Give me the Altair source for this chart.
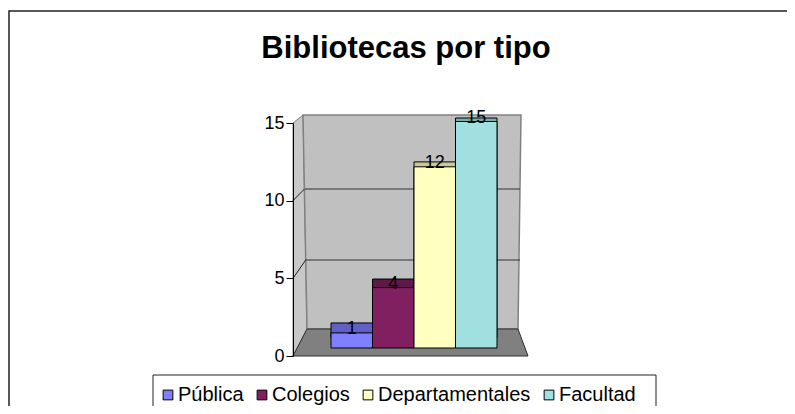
import altair as alt
import pandas as pd

# ---- data ----
categories = ["Pública", "Colegios", "Departamentales", "Facultad"]
values = [1, 4, 12, 15]
front_colors = ["#8080FF", "#802060", "#FFFFC0", "#A0E0E0"]
top_colors = ["#6060C8", "#601848", "#C8C898", "#78B0B0"]
axis_ticks = [0, 5, 10, 15]
wall_grid = [5, 10]
title_text = "Bibliotecas por tipo"

FONT = "Liberation Sans"

# plot origin on page
OX, OY = 293, 123
W, H = 242, 233


def px(X):
    return X - OX


def py(Y):
    return Y - OY


bars = pd.DataFrame({
    "cat": categories,
    "val": values,
    "front": front_colors,
    "top": top_colors,
})

xband = alt.Scale(type="band", domain=categories, paddingInner=0, paddingOuter=0.916)
X = alt.X("cat:N", scale=xband, axis=None, sort=categories)
Xc = alt.X("cat:N", scale=xband, axis=None, sort=categories, bandPosition=0.5)

# decorations (pixel space, relative to plot origin)
NS = dict(scale=None, axis=None)

border = alt.Chart(pd.DataFrame({"a": [0]})).mark_rect(
    fill="white", stroke="#222222", strokeWidth=1.5
).encode(
    x=alt.value(px(9)), x2=alt.value(px(820)),
    y=alt.value(py(11)), y2=alt.value(py(430)),
)

title = alt.Chart(pd.DataFrame({"t": [title_text]})).mark_text(
    font=FONT, fontSize=31, fontWeight="bold", baseline="alphabetic", align="center"
).encode(x=alt.value(px(406)), y=alt.value(py(58)), text="t:N")

side = pd.DataFrame({
    "y": [py(115), py(123), py(329), py(356)],
    "x": [px(303), px(293), px(293), px(293)],
    "x2": [px(303), px(303.2), px(307), px(293)],
})
side_wall = alt.Chart(side).mark_area(
    orient="horizontal", fill="#C8C8C8", stroke="#808080", strokeWidth=1
).encode(
    y=alt.Y("y:Q", **NS), x=alt.X("x:Q", **NS), x2="x2:Q"
)

back = pd.DataFrame({
    "y": [py(115), py(329)],
    "x": [px(303), px(307)],
    "x2": [px(521), px(518)],
})
back_wall = alt.Chart(back).mark_area(
    orient="horizontal", fill="#C0C0C0", stroke="#808080", strokeWidth=1.5
).encode(
    y=alt.Y("y:Q", **NS), x=alt.X("x:Q", **NS), x2="x2:Q"
)

floor_df = pd.DataFrame({
    "x": [px(293), px(307), px(518), px(528)],
    "y": [py(356), py(329), py(329), py(356)],
    "y2": [py(356), py(356), py(356), py(356)],
})
floor = alt.Chart(floor_df).mark_area(
    fill="#808080", stroke="#303030", strokeWidth=1
).encode(
    x=alt.X("x:Q", **NS), y=alt.Y("y:Q", **NS), y2="y2:Q"
)

# wall gridlines via wall scale (0 -> y331, 14.2 px per unit)
wall_scale = alt.Scale(domain=[-(356 - 331) / 14.2, (331 - 123) / 14.2], nice=False, zero=False)
grid = alt.Chart(pd.DataFrame({"g": wall_grid})).mark_rule(
    color="#303030", strokeWidth=1
).encode(
    y=alt.Y("g:Q", scale=wall_scale, axis=None),
    x=alt.value(px(305)), x2=alt.value(px(520)),
)

# connectors from front axis ticks to wall
front_axis_scale = alt.Scale(domain=[0, 15], nice=False, zero=False)


def fy(v):
    return 356 - v * (233 / 15)


def wy(v):
    return 331 - v * 14.2


conn = pd.DataFrame({
    "x": [0, 0],
    "y": [py(fy(5)), py(fy(10))],
    "x2": [px(303 + 4 * (wy(5) - 115) / 214), px(303 + 4 * (wy(10) - 115) / 214)],
    "y2": [py(wy(5)), py(wy(10))],
})
connectors = alt.Chart(conn).mark_rule(color="#202020", strokeWidth=1).encode(
    x=alt.X("x:Q", **NS), y=alt.Y("y:Q", **NS), x2="x2:Q", y2="y2:Q"
)

# front axis
axis_layer = alt.Chart(pd.DataFrame({"v": axis_ticks})).mark_point(opacity=0).encode(
    y=alt.Y("v:Q", scale=front_axis_scale,
            axis=alt.Axis(orient="left", values=axis_ticks, title=None, grid=False,
                          tickSize=7, tickColor="black", domainColor="black",
                          labelPadding=2, labelFont=FONT, labelFontSize=18,
                          labelColor="black", domainWidth=1, tickWidth=1, zindex=1)),
    x=alt.value(0),
)

# back bars (visible top faces): 0 -> y337.6, 14.64 px per unit
back_scale = alt.Scale(domain=[-(356 - 337.6) / 14.64, (337.6 - 123) / 14.64], nice=False, zero=False)
top_faces = alt.Chart(bars).mark_bar(stroke="black", strokeWidth=1).encode(
    x=X,
    y=alt.Y("val:Q", scale=back_scale, axis=None),
    y2=alt.datum(0),
    fill=alt.Fill("top:N", scale=None, legend=None),
)

# front bars: 0 -> y348, 15.1 px per unit
front_scale = alt.Scale(domain=[-(356 - 348) / 15.1, (348 - 123) / 15.1], nice=False, zero=False)
front_bars = alt.Chart(bars).mark_bar(stroke="black", strokeWidth=1).encode(
    x=X,
    y=alt.Y("val:Q", scale=front_scale, axis=None),
    y2=alt.datum(0),
    color=alt.Color("cat:N", scale=alt.Scale(domain=categories, range=front_colors),
                    sort=categories,
                    legend=alt.Legend(title=None, orient="none", direction="horizontal",
                                      legendX=px(150), legendY=py(377), columns=4,
                                      symbolType="square", symbolSize=95,
                                      symbolStrokeColor="black", symbolStrokeWidth=1,
                                      symbolOpacity=1,
                                      labelFont=FONT, labelFontSize=20, labelColor="black",
                                      labelOffset=0, columnPadding=8, padding=8,
                                      labelLimit=300)),
)

labels = alt.Chart(bars).mark_text(
    font=FONT, fontSize=18, baseline="middle", align="center", dy=-4, color="black"
).encode(
    x=Xc,
    y=alt.Y("val:Q", scale=front_scale, axis=None),
    text="val:Q",
)

legend_box = alt.Chart(pd.DataFrame({"a": [0]})).mark_rect(
    fill="white", stroke="#222222", strokeWidth=1
).encode(
    x=alt.value(px(153)), x2=alt.value(px(656)),
    y=alt.value(py(375)), y2=alt.value(py(413)),
)

chart = alt.layer(
    border, title, legend_box, side_wall, back_wall, floor, grid, connectors,
    axis_layer, top_faces, front_bars, labels
).resolve_scale(
    x="independent", y="independent", fill="independent"
).properties(
    width=W, height=H,
    autosize=alt.AutoSizeParams(type="none"),
    padding={"left": OX - 8, "top": OY - 8, "right": 779 - (OX - 8) - W, "bottom": 398 - (OY - 8) - H},
).configure_view(stroke=None)

chart.save("out.html", embed_options={"renderer": "svg", "actions": False})
